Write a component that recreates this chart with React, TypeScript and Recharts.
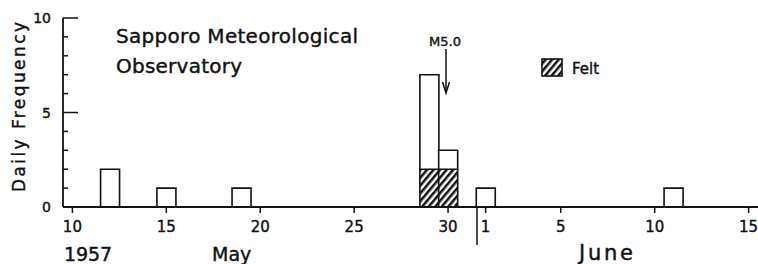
import { ComposedChart, Bar, XAxis, YAxis } from 'recharts';

// ─── Data ──────────────────────────────────────────────────────────────────────
const DAYS = [
  'May10', 'May11', 'May12', 'May13', 'May14', 'May15', 'May16', 'May17', 'May18', 'May19',
  'May20', 'May21', 'May22', 'May23', 'May24', 'May25', 'May26', 'May27', 'May28', 'May29',
  'May30', 'May31',
  'Jun1', 'Jun2', 'Jun3', 'Jun4', 'Jun5', 'Jun6', 'Jun7', 'Jun8', 'Jun9', 'Jun10',
  'Jun11', 'Jun12', 'Jun13', 'Jun14', 'Jun15',
];

const EVENT_DAYS  = ['May12', 'May15', 'May19', 'May29', 'May30', 'Jun1', 'Jun11'];
const EVENT_TOTAL = [2, 1, 1, 7, 3, 1, 1];
const EVENT_FELT  = [0, 0, 0, 2, 2, 0, 0];

const X_TICK_LABELS: Record<string, string> = {
  May10: '10', May15: '15', May20: '20', May25: '25', May30: '30',
  Jun1: '1', Jun5: '5', Jun10: '10', Jun15: '15',
};
const Y_TICKS = [0, 1, 2, 3, 4, 5, 6, 7, 8, 9, 10];
const Y_TICK_LABELS = [0, 5, 10];

const FONT = '"DejaVu Sans", sans-serif';
const INK = '#111';
// slightly heavier text, like the original plotter lettering
const TXT = { fontFamily: FONT, fill: INK, stroke: INK, strokeWidth: 0.4 };

const data = DAYS.map(d => {
  const k = EVENT_DAYS.indexOf(d);
  if (k < 0) return { day: d, felt: null, notFelt: null };
  const felt = EVENT_FELT[k];
  return { day: d, felt: felt || null, notFelt: EVENT_TOTAL[k] - felt || null };
});

// ─── Ticks ─────────────────────────────────────────────────────────────────────
function XTick(p: any) {
  const lab = X_TICK_LABELS[p.payload.value];
  if (!lab) return <g />;
  return (
    <g>
      <line x1={p.x} x2={p.x} y1={p.y} y2={p.y + 6} stroke={INK} strokeWidth={1.5} />
      <text x={p.x} y={p.y + 25} textAnchor="middle" fontSize={15} {...TXT}>
        {lab}
      </text>
    </g>
  );
}

function YTick(p: any) {
  const v = p.payload.value;
  const major = Y_TICK_LABELS.includes(v) && v !== 0;
  return (
    <g>
      {v !== 0 && (
        <line x1={p.x} x2={p.x + (major ? 15 : 5)} y1={p.y} y2={p.y} stroke={INK} strokeWidth={1.5} />
      )}
      {Y_TICK_LABELS.includes(v) && (
        <text x={p.x - 12} y={p.y + 5} textAnchor="end" fontSize={14} {...TXT}>
          {v}
        </text>
      )}
    </g>
  );
}

export default function App() {
  return (
    <div style={{ position: 'absolute', left: 0, top: 0, background: '#fff' }}>
      <ComposedChart
        width={758}
        height={264}
        data={data}
        margin={{ top: 18, right: 0, left: 0, bottom: 0 }}
        barCategoryGap={0}
        barGap={0}
      >
        <defs>
          <pattern id="hatch" width="5" height="5" patternUnits="userSpaceOnUse" patternTransform="rotate(40)">
            <rect width="5" height="5" fill="#fff" />
            <line x1="1.25" y1="0" x2="1.25" y2="5" stroke={INK} strokeWidth={2.5} />
          </pattern>
        </defs>
        <XAxis
          dataKey="day"
          interval={0}
          height={57}
          tickSize={0}
          tickMargin={0}
          tickLine={false}
          axisLine={{ stroke: INK, strokeWidth: 1.8 }}
          tick={XTick}
        />
        <YAxis
          type="number"
          domain={[0, 10]}
          ticks={Y_TICKS}
          interval={0}
          width={63}
          tickSize={0}
          tickMargin={0}
          tickLine={false}
          axisLine={{ stroke: INK, strokeWidth: 1.8 }}
          tick={YTick}
        />
        <Bar dataKey="felt" stackId="a" fill="url(#hatch)" stroke={INK} strokeWidth={1.6} isAnimationActive={false} />
        <Bar dataKey="notFelt" stackId="a" fill="#fff" stroke={INK} strokeWidth={1.6} isAnimationActive={false} />

        {/* annotations */}
        <text x={18.5} y={107} transform="rotate(-90 18.5 107)" textAnchor="middle" dominantBaseline="central"
          fontSize={17} textLength={170} {...TXT}>
          Daily Frequency
        </text>
        <text x={116} y={43} fontSize={20} textLength={242} {...TXT}>
          Sapporo Meteorological
        </text>
        <text x={116} y={73} fontSize={20} textLength={126} {...TXT}>
          Observatory
        </text>
        <text x={445} y={46} textAnchor="middle" fontSize={13} {...TXT}>
          M5.0
        </text>
        <line x1={446} x2={446} y1={49} y2={92} stroke={INK} strokeWidth={1.5} />
        <path d="M442.5,82 L446,93 L449.5,82" fill="none" stroke={INK} strokeWidth={1.5} />
        <rect x={542} y={59} width={20} height={17} fill="url(#hatch)" stroke={INK} strokeWidth={1.6} />
        <text x={572} y={74} fontSize={15} {...TXT}>Felt</text>
        <line x1={477} x2={477} y1={207} y2={245} stroke={INK} strokeWidth={1.5} />
        <text x={64} y={261} fontSize={19} textLength={48} {...TXT}>1957</text>
        <text x={212} y={261} fontSize={19} {...TXT}>May</text>
        <text x={579} y={260} fontSize={21} textLength={54} {...TXT}>June</text>
      </ComposedChart>
    </div>
  );
}
